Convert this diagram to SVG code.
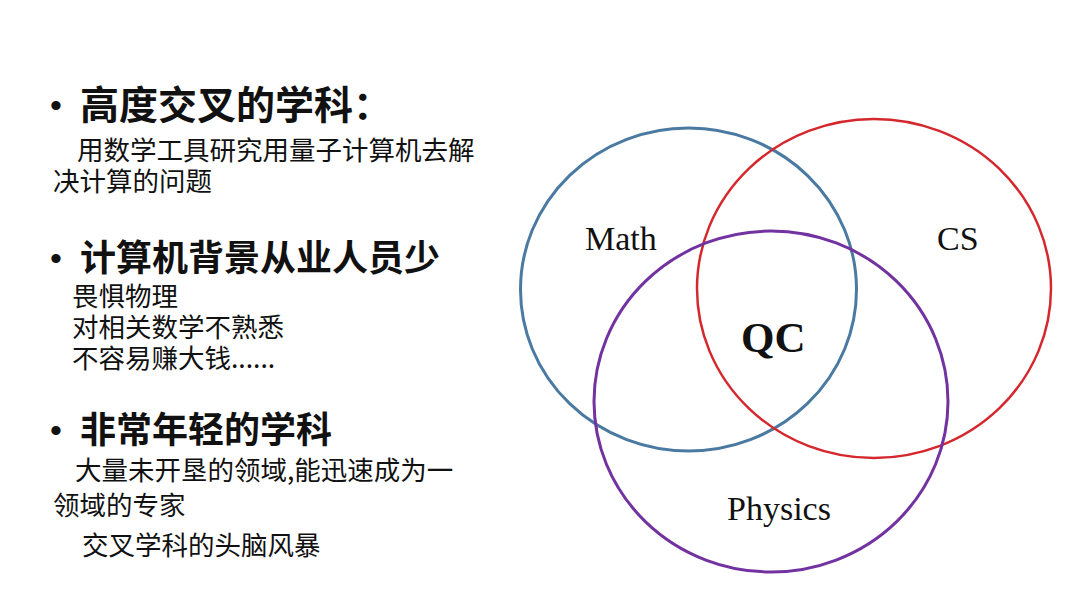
<svg xmlns="http://www.w3.org/2000/svg" width="1080" height="608" viewBox="0 0 1080 608">
<style>
.h{font-family:"Noto Sans CJK SC","Noto Sans",sans-serif;font-weight:bold;fill:#111;}
.b{font-family:"Noto Sans CJK SC","Noto Sans",sans-serif;font-size:26.5px;fill:#111;}
.bul{font-family:"Liberation Sans",Arial,sans-serif;font-size:34px;fill:#111;}
.lab{font-family:"Liberation Serif","Times New Roman",serif;font-size:34px;fill:#111;}
.qc{font-family:"Liberation Serif","Times New Roman",serif;font-size:43px;font-weight:bold;fill:#111;}
.ring{fill:none;}
</style>
<rect width="1080" height="608" fill="#ffffff"/>
<g id="text-left">
  <text class="bul" x="50" y="117">•</text>
  <text class="h" x="80" y="119" font-size="39">高度交叉的学科：</text>
  <text class="b" x="77" y="160">用数学工具研究用量子计算机去解</text>
  <text class="b" x="53" y="191">决计算的问题</text>
  <text class="bul" x="50" y="270">•</text>
  <text class="h" x="80" y="271" font-size="36">计算机背景从业人员少</text>
  <text class="b" x="72" y="306">畏惧物理</text>
  <text class="b" x="72" y="337">对相关数学不熟悉</text>
  <text class="b" x="72" y="368">不容易赚大钱......</text>
  <text class="bul" x="50" y="442">•</text>
  <text class="h" x="80" y="443" font-size="36">非常年轻的学科</text>
  <text class="b" x="75" y="480">大量未开垦的领域,能迅速成为一</text>
  <text class="b" x="53" y="515">领域的专家</text>
  <text class="b" x="82" y="555">交叉学科的头脑风暴</text>
</g>
<g id="math">
  <ellipse class="ring" cx="688.5" cy="289.5" rx="168" ry="161.5" stroke="#4a79a1" stroke-width="3"/>
  <text class="lab" x="585" y="250">Math</text>
</g>
<g id="cs">
  <ellipse class="ring" cx="874" cy="288.5" rx="177" ry="169.5" stroke="#d4282e" stroke-width="2.5"/>
  <text class="lab" x="937" y="250">CS</text>
</g>
<g id="physics">
  <ellipse class="ring" cx="771" cy="401.5" rx="177" ry="170.5" stroke="#7232a0" stroke-width="3"/>
  <text class="lab" x="727" y="520">Physics</text>
</g>
<g id="qc">
  <text class="qc" x="741" y="352">QC</text>
</g>
</svg>
